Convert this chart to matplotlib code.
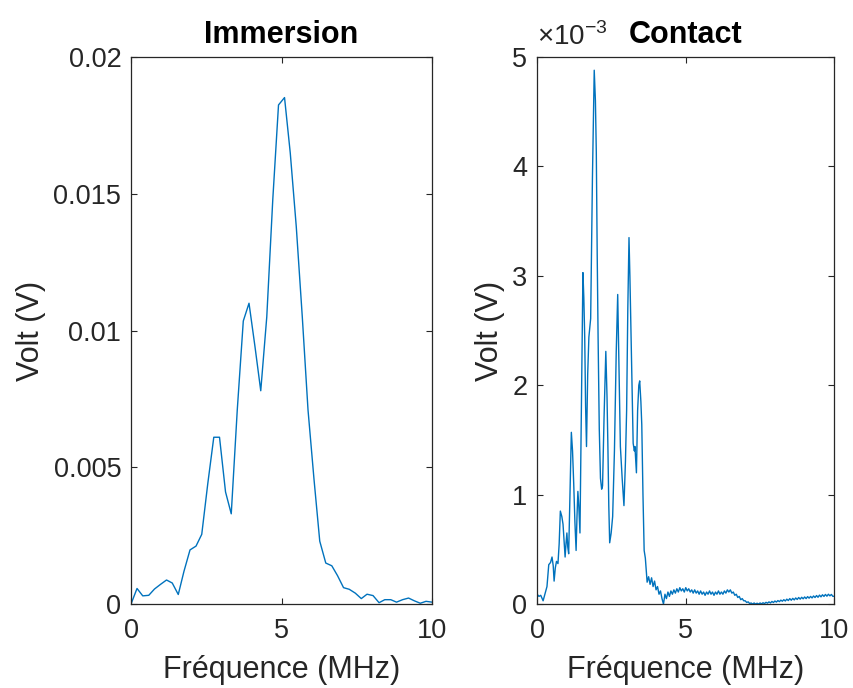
import numpy as np
import matplotlib.pyplot as plt

plt.rcParams['font.family'] = ['Liberation Sans', 'DejaVu Sans']
plt.rcParams['mathtext.fontset'] = 'custom'
plt.rcParams['mathtext.rm'] = 'Liberation Sans'

LINE = '#0072BD'
AX = '#262626'

# Immersion spectrum (V)
freq_imm = [0.00, 0.20, 0.39, 0.59, 0.78, 0.98, 1.18, 1.37, 1.57, 1.76,
            1.96, 2.16, 2.35, 2.55, 2.75, 2.94, 3.14, 3.33, 3.53, 3.73,
            3.92, 4.12, 4.31, 4.51, 4.71, 4.90, 5.10, 5.29, 5.49, 5.69,
            5.88, 6.08, 6.27, 6.47, 6.67, 6.86, 7.06, 7.25, 7.45, 7.65,
            7.84, 8.04, 8.24, 8.43, 8.63, 8.82, 9.02, 9.22, 9.41, 9.61,
            9.80, 10.00]
volt_imm = [0.0, 0.00057, 0.0003, 0.00032, 0.00055, 0.00072, 0.00088, 0.00077, 0.00035, 0.0012,
            0.00198, 0.00212, 0.00255, 0.0044, 0.0061, 0.0061, 0.0041, 0.0033, 0.0071, 0.01035,
            0.011, 0.0094, 0.0078, 0.0105, 0.0148, 0.01825, 0.01852, 0.0165, 0.0138, 0.0105,
            0.0071, 0.00455, 0.0023, 0.0015, 0.0014, 0.00104, 0.0006, 0.00054, 0.0004, 0.0002,
            0.00036, 0.00031, 0.00005, 0.00016, 0.00016, 0.00007, 0.00016, 0.00022, 0.00012, 0.00003,
            0.0001, 0.00007]

# Contact spectrum (in units of 1e-3 V): main band 0-3.7 MHz
freq_con_band = [0.00, 0.06, 0.12, 0.20, 0.27, 0.33, 0.39, 0.45, 0.50, 0.54,
                 0.57, 0.61, 0.65, 0.70, 0.74, 0.78, 0.83, 0.87, 0.91, 0.94,
                 0.97, 1.00, 1.03, 1.06, 1.10, 1.15, 1.19, 1.23, 1.27, 1.31,
                 1.34, 1.37, 1.40, 1.44, 1.49, 1.54, 1.57, 1.60, 1.63, 1.66,
                 1.70, 1.74, 1.80, 1.86, 1.92, 1.96, 1.99, 2.02, 2.05, 2.09,
                 2.13, 2.17, 2.20, 2.25, 2.31, 2.35, 2.38, 2.41, 2.44, 2.49,
                 2.54, 2.60, 2.66, 2.71, 2.75, 2.80, 2.86, 2.92, 2.97, 3.01,
                 3.05, 3.09, 3.12, 3.16, 3.20, 3.23, 3.27, 3.29, 3.34, 3.38,
                 3.42, 3.45, 3.49, 3.52, 3.56, 3.60, 3.64]
volt_con_band = [0.09, 0.07, 0.08, 0.03, 0.10, 0.16, 0.36, 0.38, 0.43, 0.35,
                 0.21, 0.33, 0.39, 0.37, 0.55, 0.85, 0.80, 0.73, 0.55, 0.43,
                 0.55, 0.65, 0.52, 0.46, 0.95, 1.57, 1.40, 1.10, 0.75, 0.49,
                 0.80, 1.03, 0.90, 0.65, 1.80, 3.03, 2.80, 2.44, 1.80, 1.44,
                 2.10, 2.44, 2.61, 3.90, 4.88, 4.60, 4.13, 3.20, 2.44, 1.60,
                 1.15, 1.05, 1.08, 1.70, 2.31, 1.90, 1.44, 0.90, 0.56, 0.65,
                 0.80, 1.40, 2.30, 2.83, 2.20, 1.44, 1.15, 0.90, 1.30, 1.77,
                 2.70, 3.35, 3.00, 2.44, 1.90, 1.47, 1.40, 1.44, 1.20, 1.77,
                 2.00, 2.04, 1.85, 1.64, 1.00, 0.49, 0.42]

# Contact spectrum: noise floor 3.7-10 MHz
freq_con_tail = [3.70, 3.75, 3.80, 3.85, 3.90, 3.95, 4.00, 4.05, 4.10, 4.15,
                 4.20, 4.25, 4.30, 4.35, 4.40, 4.45, 4.50, 4.55, 4.60, 4.65,
                 4.70, 4.75, 4.80, 4.85, 4.90, 4.95, 5.00, 5.05, 5.10, 5.15,
                 5.20, 5.25, 5.30, 5.35, 5.40, 5.45, 5.50, 5.55, 5.60, 5.65,
                 5.70, 5.75, 5.80, 5.85, 5.90, 5.95, 6.00, 6.05, 6.10, 6.15,
                 6.20, 6.25, 6.30, 6.35, 6.40, 6.45, 6.50, 6.55, 6.60, 6.65,
                 6.70, 6.75, 6.80, 6.85, 6.90, 6.95, 7.00, 7.05, 7.10, 7.15,
                 7.20, 7.25, 7.30, 7.35, 7.40, 7.45, 7.50, 7.55, 7.60, 7.65,
                 7.70, 7.75, 7.80, 7.85, 7.90, 7.95, 8.00, 8.05, 8.10, 8.15,
                 8.20, 8.25, 8.30, 8.35, 8.40, 8.45, 8.50, 8.55, 8.60, 8.65,
                 8.70, 8.75, 8.80, 8.85, 8.90, 8.95, 9.00, 9.05, 9.10, 9.15,
                 9.20, 9.25, 9.30, 9.35, 9.40, 9.45, 9.50, 9.55, 9.60, 9.65,
                 9.70, 9.75, 9.80, 9.85, 9.90, 9.95, 10.00]
volt_con_tail = [0.20, 0.25, 0.18, 0.24, 0.16, 0.21, 0.13, 0.16, 0.09, 0.12,
                 0.05, 0.00, 0.09, 0.05, 0.11, 0.07, 0.12, 0.09, 0.13, 0.10,
                 0.14, 0.11, 0.15, 0.12, 0.14, 0.11, 0.15, 0.12, 0.14, 0.11,
                 0.13, 0.10, 0.13, 0.10, 0.12, 0.09, 0.12, 0.09, 0.11, 0.08,
                 0.11, 0.09, 0.12, 0.09, 0.11, 0.08, 0.11, 0.09, 0.12, 0.09,
                 0.11, 0.09, 0.12, 0.10, 0.13, 0.11, 0.13, 0.10, 0.11, 0.08,
                 0.09, 0.06, 0.07, 0.04, 0.05, 0.03, 0.03, 0.015, 0.02, 0.005,
                 0.01, 0.0, 0.01, 0.0, 0.008, 0.0, 0.01, 0.002, 0.012, 0.004,
                 0.016, 0.008, 0.02, 0.01, 0.024, 0.014, 0.028, 0.018, 0.032, 0.022,
                 0.036, 0.026, 0.04, 0.028, 0.045, 0.032, 0.05, 0.035, 0.052, 0.038,
                 0.056, 0.042, 0.06, 0.045, 0.062, 0.048, 0.065, 0.05, 0.068, 0.054,
                 0.07, 0.056, 0.074, 0.06, 0.078, 0.062, 0.082, 0.066, 0.085, 0.07,
                 0.088, 0.072, 0.09, 0.075, 0.088, 0.07, 0.072]

xticks = [0, 5, 10]
imm_yticks = [0, 0.005, 0.01, 0.015, 0.02]
imm_ylabels = ['0', '0.005', '0.01', '0.015', '0.02']
con_yticks = [0, 1, 2, 3, 4, 5]

fig = plt.figure(figsize=(8.54, 6.88), dpi=100)
ax1 = fig.add_axes([0.1534, 0.122, 0.3525, 0.795])
ax2 = fig.add_axes([0.629, 0.122, 0.348, 0.795])


def style(ax):
    for s in ax.spines.values():
        s.set_color(AX)
        s.set_linewidth(0.9)
    ax.tick_params(direction='in', length=4.5, width=0.8, colors=AX,
                   labelsize=19.5, top=True, right=True)
    ax.tick_params(axis='x', pad=10)
    ax.tick_params(axis='y', pad=7)
    ax.set_xlim(0, 10)
    ax.set_xticks(xticks)
    ax.set_xlabel('Fréquence (MHz)', fontsize=22, color=AX, labelpad=8)
    ax.set_ylabel('Volt (V)', fontsize=22, color=AX, labelpad=5)


ax1.plot(freq_imm, volt_imm, color=LINE, lw=1.0)
style(ax1)
ax1.set_ylim(0, 0.02)
ax1.set_yticks(imm_yticks)
ax1.set_yticklabels(imm_ylabels)
ax1.set_title('Immersion', fontsize=22, fontweight='bold', pad=10)

ax2.plot(freq_con_band + freq_con_tail, volt_con_band + volt_con_tail, color=LINE, lw=1.0)
style(ax2)
ax2.set_ylim(0, 5)
ax2.set_yticks(con_yticks)
ax2.set_title('Contact', fontsize=22, fontweight='bold', pad=10)
ax2.text(0.0, 1.012, r'$\times10^{-3}$', transform=ax2.transAxes,
         fontsize=20, color=AX, ha='left', va='bottom')

fig.savefig('out.png', dpi=100, facecolor='white')
